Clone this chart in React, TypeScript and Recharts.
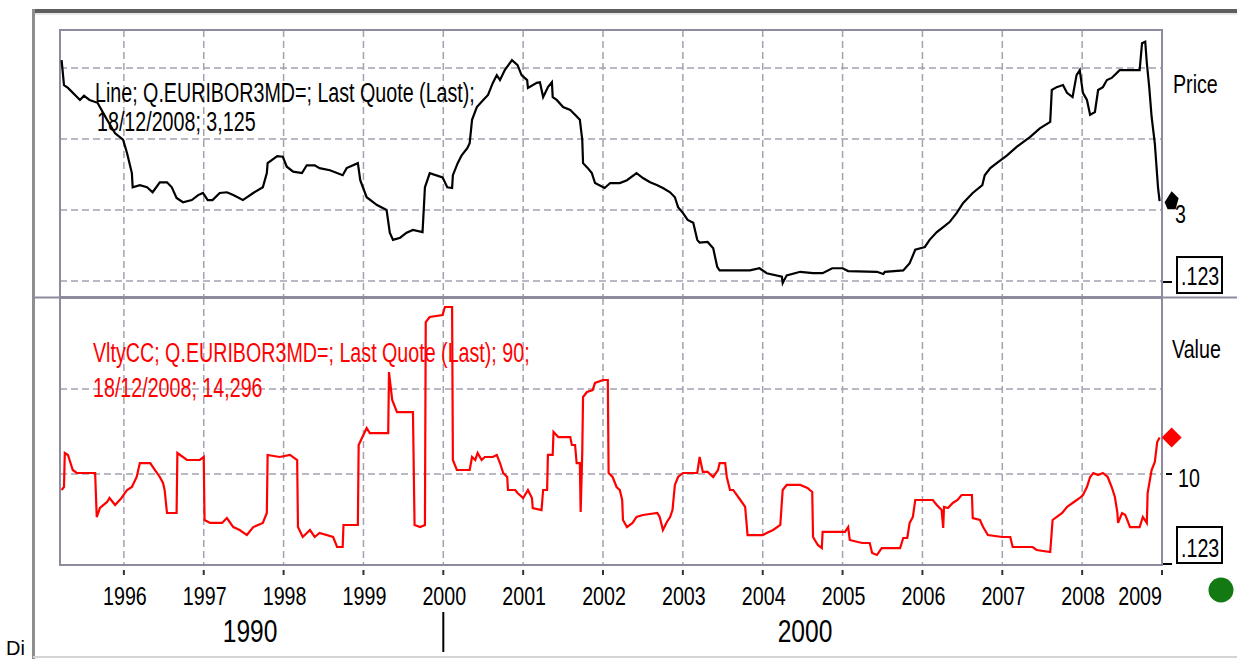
import React from "react";
import {
  LineChart,
  Line,
  XAxis,
  YAxis,
  CartesianGrid,
  ReferenceArea,
  ReferenceDot,
} from "recharts";

// time axis, decimal years
const X_MIN = 1995.2;
const X_MAX = 2009.0;
const yearTicks = [1996, 1997, 1998, 1999, 2000, 2001, 2002, 2003, 2004, 2005, 2006, 2007, 2008, 2009];
const decadeTicks = [1997.58, 2000, 2004.53];
const decadeLabels: Record<string, string> = { "1997.58": "1990", "2004.53": "2000" };

// 3M Euribor, last quote
const price1995_1999: [number, number][] = [
  [1995.22, 5.11], [1995.25, 4.76], [1995.3, 4.72], [1995.45, 4.55], [1995.5, 4.61], [1995.57, 4.55],
  [1995.67, 4.51], [1995.79, 4.27], [1995.89, 4.08], [1995.99, 3.99], [1996.04, 3.8], [1996.1, 3.52],
  [1996.11, 3.32], [1996.2, 3.35], [1996.29, 3.32], [1996.36, 3.25], [1996.45, 3.39], [1996.54, 3.39],
  [1996.6, 3.32], [1996.66, 3.17], [1996.74, 3.11], [1996.85, 3.14], [1996.93, 3.21], [1996.99, 3.24],
  [1997.05, 3.14], [1997.11, 3.14], [1997.2, 3.24], [1997.29, 3.25], [1997.37, 3.21], [1997.49, 3.14],
  [1997.62, 3.24], [1997.74, 3.32], [1997.79, 3.52], [1997.8, 3.66], [1997.92, 3.76], [1997.99, 3.75],
  [1998.04, 3.61], [1998.12, 3.54], [1998.23, 3.52], [1998.29, 3.63], [1998.39, 3.63], [1998.45, 3.59],
  [1998.58, 3.56], [1998.74, 3.49], [1998.79, 3.59], [1998.93, 3.66], [1998.96, 3.42], [1999.04, 3.18],
  [1999.17, 3.07], [1999.29, 3.0], [1999.33, 2.68], [1999.37, 2.58], [1999.46, 2.61], [1999.54, 2.68],
  [1999.62, 2.72], [1999.74, 2.69], [1999.77, 3.32], [1999.83, 3.52], [1999.99, 3.46],
];
const price2000_2004: [number, number][] = [
  [2000.05, 3.32], [2000.11, 3.31], [2000.12, 3.49], [2000.18, 3.66], [2000.23, 3.77], [2000.3, 3.87],
  [2000.33, 3.94], [2000.36, 4.27], [2000.42, 4.45], [2000.5, 4.55], [2000.56, 4.62], [2000.62, 4.79],
  [2000.67, 4.9], [2000.71, 4.83], [2000.77, 4.97], [2000.86, 5.11], [2000.93, 5.04], [2000.98, 4.9],
  [2001.05, 4.83], [2001.06, 4.72], [2001.17, 4.79], [2001.21, 4.8], [2001.25, 4.59], [2001.31, 4.73],
  [2001.36, 4.8], [2001.37, 4.59], [2001.42, 4.55], [2001.5, 4.45], [2001.59, 4.41], [2001.65, 4.34],
  [2001.71, 4.27], [2001.74, 3.99], [2001.75, 3.66], [2001.81, 3.59], [2001.86, 3.52], [2001.9, 3.38],
  [2002.02, 3.31], [2002.09, 3.38], [2002.21, 3.38], [2002.3, 3.42], [2002.42, 3.52], [2002.5, 3.45],
  [2002.59, 3.39], [2002.68, 3.35], [2002.75, 3.31], [2002.84, 3.25], [2002.9, 3.18], [2002.94, 3.04],
  [2003.0, 2.96], [2003.06, 2.86], [2003.13, 2.82], [2003.18, 2.58], [2003.21, 2.54], [2003.31, 2.55],
  [2003.38, 2.46], [2003.43, 2.2], [2003.46, 2.15], [2003.84, 2.15], [2003.96, 2.18], [2004.05, 2.11],
  [2004.24, 2.06], [2004.25, 1.97], [2004.3, 2.08], [2004.47, 2.13], [2004.63, 2.11], [2004.75, 2.11],
  [2004.87, 2.18],
];
const price2005_2008: [number, number][] = [
  [2005.0, 2.18], [2005.07, 2.14], [2005.43, 2.13], [2005.51, 2.1], [2005.53, 2.13], [2005.76, 2.15],
  [2005.84, 2.25], [2005.91, 2.44], [2006.03, 2.48], [2006.09, 2.58], [2006.18, 2.69], [2006.26, 2.76],
  [2006.34, 2.83], [2006.43, 2.96], [2006.51, 3.1], [2006.63, 3.24], [2006.75, 3.35], [2006.78, 3.49],
  [2006.85, 3.59], [2006.93, 3.66], [2007.06, 3.77], [2007.18, 3.89], [2007.35, 4.03], [2007.47, 4.15],
  [2007.6, 4.24], [2007.62, 4.69], [2007.68, 4.73], [2007.76, 4.76], [2007.81, 4.65], [2007.88, 4.59],
  [2007.93, 4.9], [2007.97, 4.97], [2008.01, 4.65], [2008.06, 4.55], [2008.1, 4.34], [2008.16, 4.38],
  [2008.2, 4.69], [2008.26, 4.73], [2008.31, 4.83], [2008.37, 4.86], [2008.47, 4.97], [2008.72, 4.97],
  [2008.75, 5.35], [2008.79, 5.37], [2008.81, 5.07], [2008.84, 4.73], [2008.87, 4.31], [2008.91, 3.94],
  [2008.95, 3.32], [2008.97, 3.125],
];

// VltyCC 90
const vol1995_1998: [number, number][] = [
  [1995.22, 8.12], [1995.25, 8.47], [1995.26, 12.47], [1995.3, 12.24], [1995.32, 11.65], [1995.36, 10.47],
  [1995.41, 10.12], [1995.64, 10.12], [1995.66, 4.94], [1995.7, 6.0], [1995.79, 6.71], [1995.82, 7.18],
  [1995.89, 6.35], [1995.97, 7.18], [1996.04, 8.12], [1996.1, 8.47], [1996.16, 9.65], [1996.2, 11.29],
  [1996.33, 11.29], [1996.39, 10.47], [1996.45, 9.65], [1996.49, 8.94], [1996.51, 8.12], [1996.54, 5.41],
  [1996.66, 5.41], [1996.67, 12.47], [1996.79, 11.65], [1996.95, 11.65], [1997.0, 12.0], [1997.01, 4.59],
  [1997.08, 4.24], [1997.23, 4.24], [1997.29, 4.82], [1997.37, 3.76], [1997.45, 3.41], [1997.54, 2.82],
  [1997.62, 3.76], [1997.74, 4.24], [1997.79, 5.41], [1997.8, 12.24], [1997.95, 12.0], [1998.08, 12.24],
  [1998.17, 11.65], [1998.18, 3.76], [1998.24, 2.59], [1998.33, 3.41], [1998.39, 2.59], [1998.45, 3.06],
  [1998.62, 2.59], [1998.67, 1.41], [1998.74, 1.41], [1998.75, 4.0], [1998.93, 4.0],
];
const vol1999_2002: [number, number][] = [
  [1998.94, 13.41], [1999.04, 15.41], [1999.08, 14.82], [1999.31, 14.82], [1999.32, 22.0], [1999.36, 18.71],
  [1999.42, 17.29], [1999.62, 17.29], [1999.64, 4.0], [1999.71, 3.76], [1999.77, 4.0], [1999.78, 27.88],
  [1999.83, 28.47], [1999.99, 28.71], [2000.02, 29.65], [2000.11, 29.65], [2000.12, 11.65], [2000.17, 10.47],
  [2000.33, 10.47], [2000.36, 12.0], [2000.4, 11.65], [2000.43, 12.47], [2000.48, 11.65], [2000.52, 12.0],
  [2000.62, 12.0], [2000.67, 12.24], [2000.71, 11.29], [2000.75, 10.12], [2000.8, 9.65], [2000.81, 8.12],
  [2000.9, 8.12], [2000.93, 7.76], [2001.0, 7.18], [2001.06, 8.12], [2001.11, 7.18], [2001.12, 6.0],
  [2001.23, 5.76], [2001.25, 8.12], [2001.3, 8.12], [2001.31, 12.24], [2001.37, 12.24], [2001.38, 14.94],
  [2001.44, 14.35], [2001.59, 14.35], [2001.61, 13.41], [2001.65, 13.41], [2001.67, 11.29], [2001.71, 11.29],
  [2001.72, 5.53], [2001.74, 12.47], [2001.75, 19.06], [2001.8, 19.65], [2001.87, 19.88], [2001.9, 20.71],
  [2002.0, 21.06], [2002.06, 21.06], [2002.07, 10.12], [2002.12, 9.65], [2002.17, 8.47], [2002.21, 8.12],
  [2002.24, 6.94], [2002.25, 4.59], [2002.3, 3.76], [2002.37, 4.24], [2002.42, 4.94], [2002.5, 5.18],
  [2002.68, 5.41], [2002.71, 4.94], [2002.75, 3.41], [2002.8, 4.35], [2002.84, 4.94], [2002.87, 5.76],
  [2002.9, 8.71], [2002.94, 9.65],
];
const vol2003_2008: [number, number][] = [
  [2003.0, 10.12], [2003.18, 10.12], [2003.21, 12.0], [2003.25, 10.24], [2003.31, 10.24], [2003.38, 9.65],
  [2003.44, 10.47], [2003.46, 11.29], [2003.53, 11.29], [2003.55, 9.65], [2003.59, 8.12], [2003.63, 8.12],
  [2003.72, 6.94], [2003.78, 6.12], [2003.81, 2.82], [2004.0, 2.82], [2004.05, 3.06], [2004.13, 3.41],
  [2004.22, 4.0], [2004.25, 8.12], [2004.3, 8.71], [2004.47, 8.71], [2004.56, 8.35], [2004.62, 7.88],
  [2004.63, 2.59], [2004.69, 1.65], [2004.74, 1.29], [2004.75, 3.18], [2005.03, 3.18], [2005.07, 3.76],
  [2005.09, 2.24], [2005.19, 2.0], [2005.25, 1.88], [2005.34, 1.88], [2005.37, 0.71], [2005.43, 0.47],
  [2005.49, 1.29], [2005.72, 1.29], [2005.76, 2.47], [2005.81, 2.47], [2005.84, 4.24], [2005.88, 4.94],
  [2005.91, 6.94], [2006.13, 6.94], [2006.18, 6.35], [2006.24, 5.76], [2006.26, 3.65], [2006.27, 6.12],
  [2006.32, 6.0], [2006.38, 6.59], [2006.44, 6.94], [2006.49, 7.53], [2006.62, 7.53], [2006.63, 4.82],
  [2006.72, 4.59], [2006.76, 3.76], [2006.82, 2.82], [2007.0, 2.59], [2007.1, 2.59], [2007.13, 1.41],
  [2007.38, 1.41], [2007.43, 1.06], [2007.6, 0.82], [2007.63, 4.59], [2007.75, 5.41], [2007.81, 6.12],
  [2007.88, 6.59], [2007.97, 7.18], [2008.01, 7.53], [2008.06, 8.47], [2008.1, 9.65], [2008.14, 10.12],
  [2008.2, 9.88], [2008.26, 10.12], [2008.32, 9.65], [2008.37, 8.47], [2008.41, 7.29], [2008.44, 5.53],
  [2008.45, 4.24], [2008.5, 5.41], [2008.54, 5.18], [2008.6, 3.76], [2008.72, 3.76], [2008.76, 4.94],
  [2008.81, 4.24], [2008.82, 7.76], [2008.87, 10.47], [2008.91, 11.41], [2008.94, 13.76], [2008.97, 14.296],
];

const PRICE_MIN = 1.775;
const PRICE_MAX = 5.535;
const priceTicks = [2, 3, 4, 5];
const VOL_MIN = -0.706;
const VOL_MAX = 30.706;
const volTicks = [VOL_MIN, 10, 20];

const priceData = [...price1995_1999, ...price2000_2004, ...price2005_2008].map(([t, v]) => ({ t, price: v }));
const volData = [...vol1995_1998, ...vol1999_2002, ...vol2003_2008].map(([t, v]) => ({ t, vol: v }));
const lastPrice = priceData[priceData.length - 1];
const lastVol = volData[volData.length - 1];

const FONT = "'Liberation Sans', Arial, sans-serif";
const GRID = "#a2a2b4";
const BOX = "#8c8c9e";

// narrow, slightly tall text like the original bitmap font
function NText({ x, y, size = 24, sx = 0.82, sy = 1.05, anchor = "start", fill = "#000", children }: any) {
  return (
    <text
      transform={`translate(${x},${y}) scale(${sx},${sy})`}
      fontSize={size}
      fontFamily={FONT}
      textAnchor={anchor}
      fill={fill}
    >
      {children}
    </text>
  );
}

function PriceTick(props: any) {
  const { x, y, payload } = props;
  if (payload.value === 3) {
    return <NText x={x + 13} y={y + 13}>3</NText>;
  }
  if (payload.value === 2) {
    return (
      <g>
        <line x1={x + 1} x2={x + 10} y1={y + 1} y2={y + 1} stroke="#000" strokeWidth={2} />
        <rect x={x + 15} y={y - 24} width={45} height={36} fill="#fff" stroke="#000" strokeWidth={2} />
        <NText x={x + 19} y={y + 4}>.123</NText>
      </g>
    );
  }
  return null;
}

function VolTick(props: any) {
  const { x, y, payload } = props;
  if (payload.value === 10) {
    return (
      <g>
        <line x1={x + 4} x2={x + 10} y1={y} y2={y} stroke="#000" strokeWidth={2} />
        <NText x={x + 16} y={y + 13}>10</NText>
      </g>
    );
  }
  if (payload.value === VOL_MIN) {
    return (
      <g>
        <line x1={x + 1} x2={x + 10} y1={y - 1} y2={y - 1} stroke="#000" strokeWidth={2} />
        <rect x={x + 15} y={y - 38} width={45} height={36} fill="#fff" stroke="#000" strokeWidth={2} />
        <NText x={x + 19} y={y - 8}>.123</NText>
      </g>
    );
  }
  return null;
}

function YearTick(props: any) {
  const { x, y, payload } = props;
  const last = payload.value === 2009;
  return (
    <g>
      <line x1={x} x2={x} y1={y + 5} y2={y + 10} stroke="#333" strokeWidth={2} />
      <NText x={last ? x : x + 1} y={y + 40} anchor={last ? "end" : "middle"}>
        {payload.value}
      </NText>
    </g>
  );
}

function DecadeTick(props: any) {
  const { x, y, payload } = props;
  if (payload.value === 2000) {
    return <line x1={x} x2={x} y1={y - 3} y2={y + 37} stroke="#000" strokeWidth={2} />;
  }
  return (
    <NText x={x} y={y + 27} size={30} anchor="middle">
      {decadeLabels[String(payload.value)]}
    </NText>
  );
}

export default function App() {
  return (
    <div style={{ position: "fixed", left: 0, top: 0, width: 1237, height: 659, background: "#fff", overflow: "hidden" }}>
      <div style={{ position: "absolute", left: 0, top: 0 }}>
        <LineChart width={1237} height={300} data={priceData} margin={{ top: 30, right: 0, bottom: 3, left: 60 }}>
          <CartesianGrid stroke={GRID} strokeDasharray="7 4" strokeWidth={1.5} verticalValues={yearTicks} horizontalValues={priceTicks} />
          <XAxis type="number" dataKey="t" domain={[X_MIN, X_MAX]} ticks={yearTicks} hide allowDataOverflow />
          <YAxis
            orientation="right"
            width={75}
            domain={[PRICE_MIN, PRICE_MAX]}
            ticks={priceTicks}
            interval={0}
            axisLine={false}
            tickLine={false}
            tickSize={0}
            tickMargin={0}
            tick={<PriceTick />}
            allowDataOverflow
          />
          <ReferenceArea x1={X_MIN} x2={X_MAX} y1={PRICE_MIN} y2={PRICE_MAX} fill="none" stroke={BOX} strokeWidth={2} ifOverflow="visible" />
          <Line type="linear" dataKey="price" stroke="#000" strokeWidth={2.2} dot={false} isAnimationActive={false} />
          <ReferenceDot
            x={lastPrice.t}
            y={lastPrice.price}
            ifOverflow="visible"
            shape={(p: any) => (
              <polygon
                points={`${p.cx + 5},${p.cy + 1} ${p.cx + 12},${p.cy - 10} ${p.cx + 19},${p.cy - 3} ${p.cx + 16},${p.cy + 8} ${p.cx + 8},${p.cy + 8}`}
                fill="#000"
              />
            )}
          />
        </LineChart>
      </div>

      <div style={{ position: "absolute", left: 0, top: 0 }}>
        <LineChart width={1237} height={659} data={volData} margin={{ top: 298, right: 0, bottom: 0, left: 60 }}>
          <CartesianGrid stroke={GRID} strokeDasharray="7 4" strokeWidth={1.5} verticalValues={yearTicks} horizontalValues={[10, 20]} />
          <XAxis
            type="number"
            dataKey="t"
            domain={[X_MIN, X_MAX]}
            ticks={yearTicks}
            interval={0}
            height={50}
            axisLine={false}
            tickLine={false}
            tickSize={0}
            tickMargin={0}
            tick={<YearTick />}
            allowDataOverflow
          />
          <XAxis
            xAxisId="decade"
            type="number"
            dataKey="t"
            domain={[X_MIN, X_MAX]}
            ticks={decadeTicks}
            interval={0}
            height={44}
            axisLine={false}
            tickLine={false}
            tickSize={0}
            tickMargin={0}
            tick={<DecadeTick />}
            allowDataOverflow
          />
          <YAxis
            orientation="right"
            width={75}
            domain={[VOL_MIN, VOL_MAX]}
            ticks={volTicks}
            interval={0}
            axisLine={false}
            tickLine={false}
            tickSize={0}
            tickMargin={0}
            tick={<VolTick />}
            allowDataOverflow
          />
          <ReferenceArea x1={X_MIN} x2={X_MAX} y1={VOL_MIN} y2={VOL_MAX} fill="none" stroke={BOX} strokeWidth={2} ifOverflow="visible" />
          <Line type="linear" dataKey="vol" stroke="#ff0000" strokeWidth={2.2} dot={false} isAnimationActive={false} />
          <ReferenceDot
            x={lastVol.t}
            y={lastVol.vol}
            ifOverflow="visible"
            shape={(p: any) => (
              <polygon
                points={`${p.cx + 2},${p.cy} ${p.cx + 12},${p.cy - 10} ${p.cx + 22},${p.cy} ${p.cx + 12},${p.cy + 10}`}
                fill="#ff0000"
              />
            )}
          />
        </LineChart>
      </div>

      {/* frame, series captions and panel titles */}
      <svg width={1237} height={659} style={{ position: "absolute", left: 0, top: 0, pointerEvents: "none" }}>
        <rect x={32} y={9} width={1205} height={4} fill="#5e5e5e" />
        <line x1={32} x2={1237} y1={14} y2={14} stroke="#cfcfcf" strokeWidth={1} />
        <line x1={33.5} x2={33.5} y1={9} y2={659} stroke="#8e8e8e" strokeWidth={3} />
        <line x1={33} x2={1237} y1={297.5} y2={297.5} stroke={BOX} strokeWidth={2} />
        <line x1={33} x2={1237} y1={657} y2={657} stroke="#d4d4d4" strokeWidth={2} />

        <NText x={95} y={102} sy={1.15}>Line; Q.EURIBOR3MD=; Last Quote (Last);</NText>
        <NText x={97} y={131} sy={1.15}>18/12/2008; 3,125</NText>
        <NText x={93} y={362} sy={1.15} fill="#ff0000">VltyCC; Q.EURIBOR3MD=; Last Quote (Last); 90;</NText>
        <NText x={93} y={397} sy={1.15} fill="#ff0000">18/12/2008; 14,296</NText>
        <NText x={1173} y={93} sy={1.1}>Price</NText>
        <NText x={1172} y={358} sy={1.1}>Value</NText>

        <circle cx={1221} cy={590} r={12.5} fill="#137a13" />
        <text x={6} y={655} fontSize={20} fontFamily={FONT} fill="#000">Di</text>
      </svg>
    </div>
  );
}
